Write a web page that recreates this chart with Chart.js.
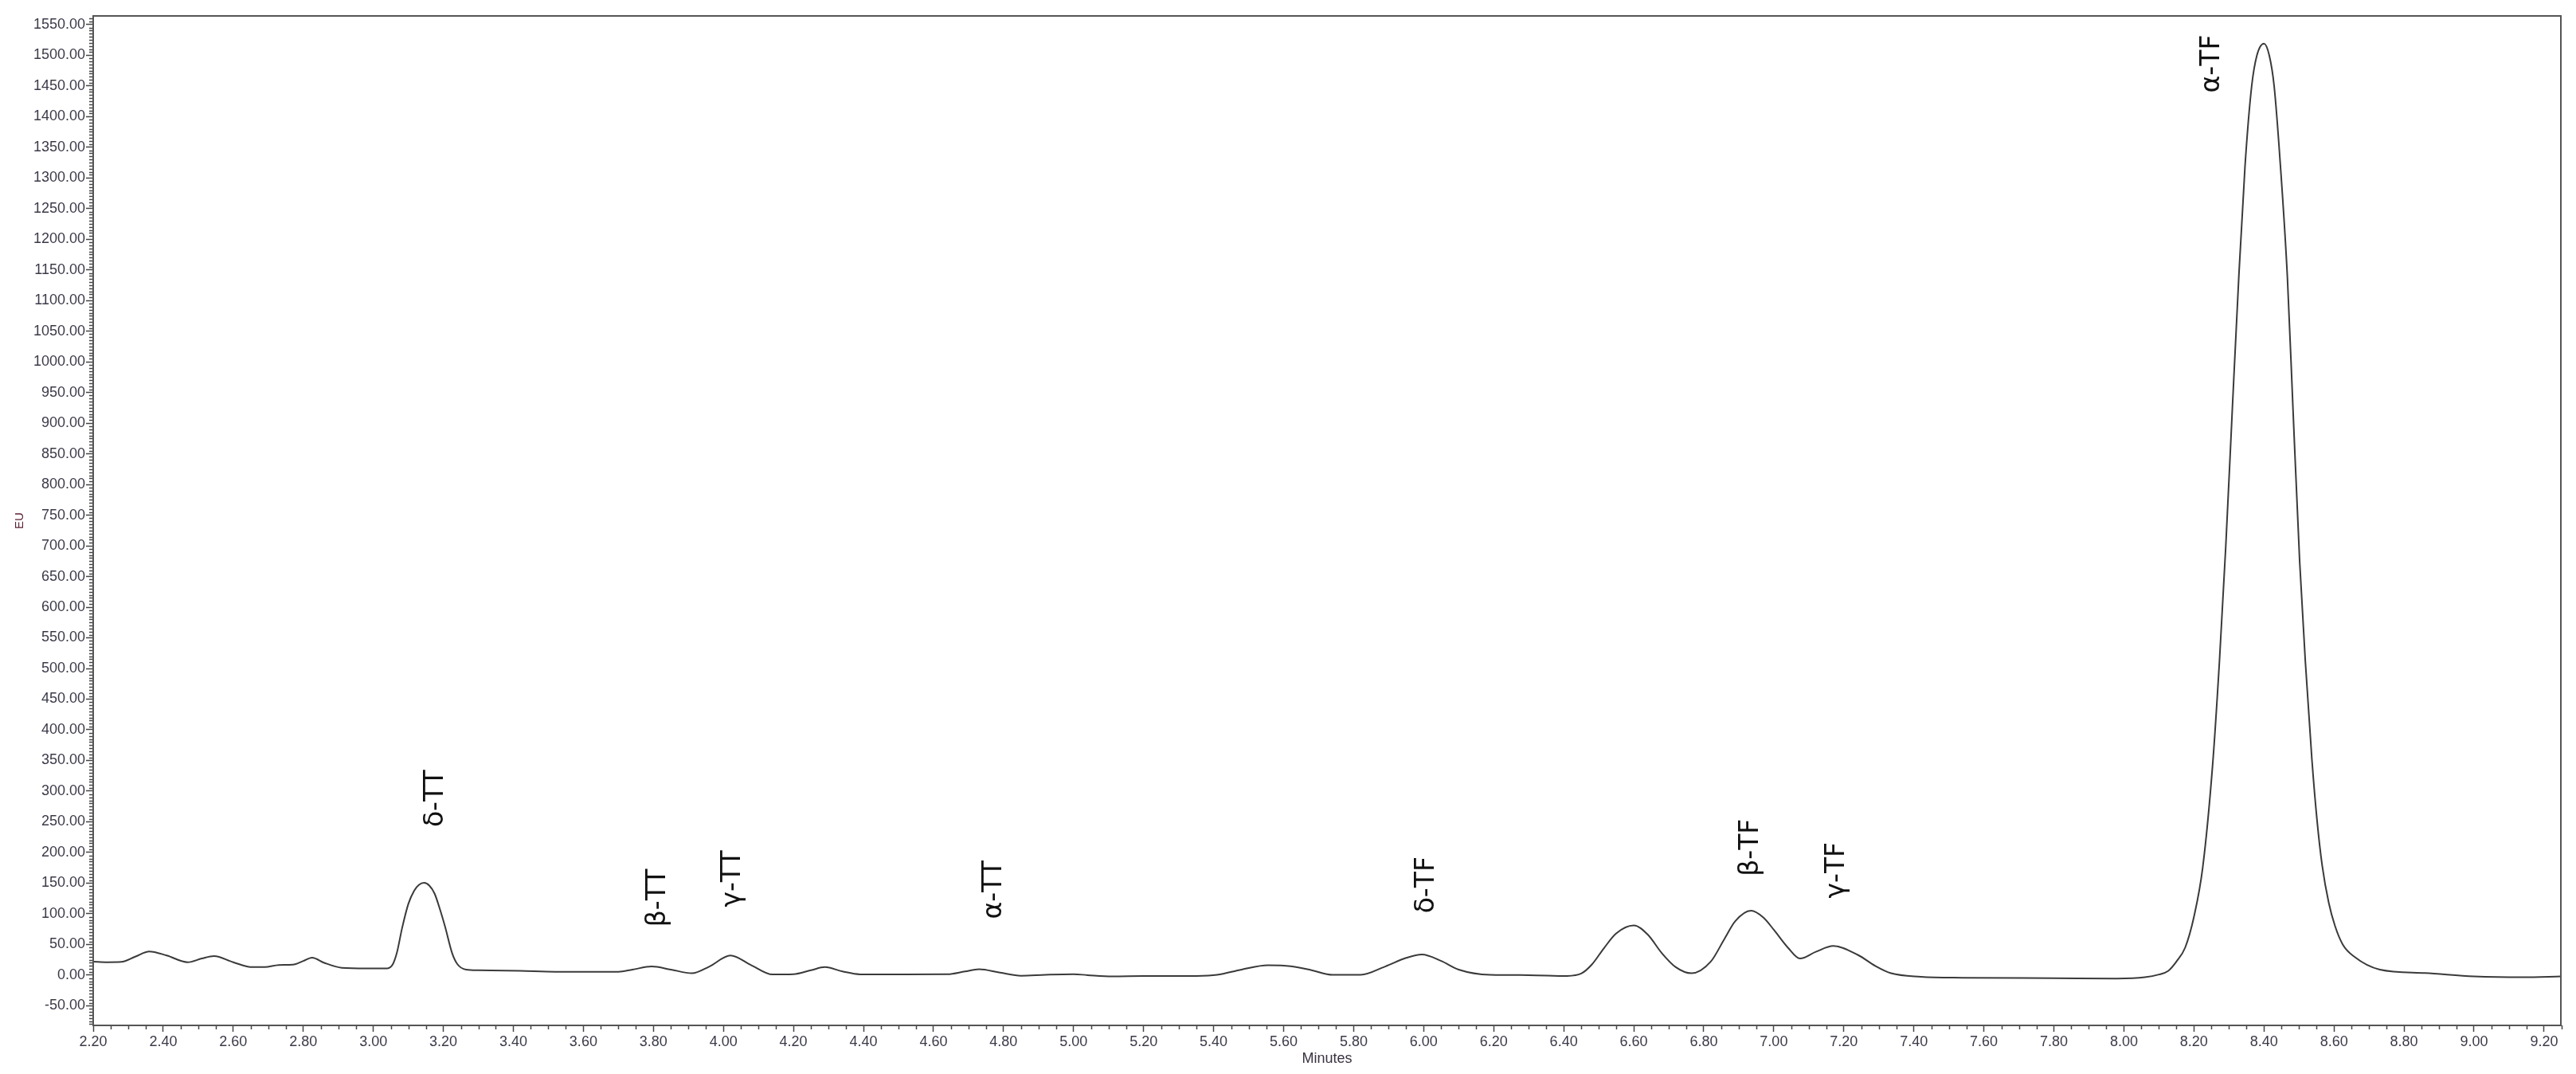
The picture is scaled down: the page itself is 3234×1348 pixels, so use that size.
<!DOCTYPE html>
<html lang="en">
<head>
<meta charset="UTF-8">
<title>Chromatogram - tocotrienols / tocopherols</title>
<script src="https://cdn.jsdelivr.net/npm/chart.js"></script>
<style>
  html, body { margin: 0; padding: 0; background: #fff; }
  canvas { display: block; }
</style>
</head>
<body>
<canvas id="chrom" width="3234" height="1348"></canvas>
<script>
// retention time (min) and detector response (EU)
const minutes = [
  2.20, 2.24, 2.28, 2.32, 2.36, 2.41, 2.47, 2.51, 2.545, 2.60,
  2.655, 2.69, 2.73, 2.77, 2.80, 2.825, 2.86, 2.91, 2.98, 3.04,
  3.055, 3.068, 3.082, 3.10, 3.117, 3.13, 3.145, 3.16, 3.175, 3.19,
  3.205, 3.225, 3.24, 3.265, 3.30, 3.42, 3.52, 3.70, 3.74, 3.795,
  3.85, 3.91, 3.96, 4.02, 4.08, 4.14, 4.20, 4.25, 4.29, 4.34,
  4.39, 4.52, 4.64, 4.69, 4.73, 4.79, 4.85, 4.92, 5.00, 5.04,
  5.11, 5.20, 5.35, 5.41, 5.48, 5.555, 5.62, 5.68, 5.74, 5.82,
  5.89, 5.95, 5.995, 6.05, 6.10, 6.19, 6.30, 6.41, 6.45, 6.48,
  6.515, 6.55, 6.60, 6.64, 6.68, 6.72, 6.765, 6.82, 6.86, 6.89,
  6.935, 6.97, 7.00, 7.04, 7.075, 7.12, 7.17, 7.24, 7.29, 7.335,
  7.42, 7.54, 7.80, 7.98, 8.06, 8.10, 8.127, 8.15, 8.175, 8.20,
  8.225, 8.253, 8.273, 8.291, 8.309, 8.328, 8.346, 8.365, 8.38, 8.40,
  8.415, 8.429, 8.447, 8.467, 8.483, 8.502, 8.518, 8.537, 8.552, 8.566,
  8.585, 8.603, 8.625, 8.658, 8.731, 8.86, 9.00, 9.14, 9.25
];
const response = [
  22, 21, 21.5, 30, 38.5, 32, 21, 27, 31, 21,
  13, 13, 16.5, 17, 23, 28.5, 20, 12, 11, 11,
  17, 38, 76, 116, 138, 147, 150.5, 146, 133, 108,
  79, 36, 18, 9, 8, 7, 5.5, 5.5, 9, 14,
  9, 3, 14, 32, 16, 1, 1.5, 8, 13, 6,
  1.3, 1.3, 1.5, 6, 9.5, 4, -1, 0.5, 1.5, 0,
  -2, -1.5, -1.3, 0.4, 9, 16, 14.5, 8, 0.5, 0.5,
  14, 28, 33.5, 23, 9, 0.5, 0, -1.3, 2.5, 17,
  44, 68, 81, 66, 36, 13, 3, 22, 60, 88,
  105, 94, 74, 45, 27, 38, 47.5, 33, 15, 3,
  -2.6, -4.3, -5, -5.6, -3.5, 1, 7, 22, 45, 95,
  175, 340, 513, 700, 915, 1137, 1320, 1450, 1500, 1519,
  1500, 1450, 1320, 1137, 922, 674, 513, 351, 250, 180,
  118, 80, 50, 30, 9, 3.4, -2, -3.5, -2
];

// peak annotations: name and where its (rotated) label sits, in data units
const peakNames = ['δ-TT', 'β-TT', 'γ-TT', 'α-TT', 'δ-TF', 'β-TF', 'γ-TF', 'α-TF'];
const peakTimes = [3.18, 3.814, 4.027, 4.773, 6.009, 6.936, 7.18, 8.252];
const peakLevels = [288, 126, 157, 139, 147, 208, 171, 1486];

const points = minutes.map((m, i) => ({ x: m, y: response[i] }));

const axisFont = { family: "'Liberation Sans', Arial, sans-serif", size: 18 };
const tickColor = '#3a3a48';
const frameColor = '#555555';

// minor ticks, outer frame and peak names
const extras = {
  id: 'extras',
  afterDraw(chart) {
    const ctx = chart.ctx;
    const a = chart.chartArea;
    const xs = chart.scales.x;
    const ys = chart.scales.y;
    ctx.save();
    ctx.strokeStyle = '#444';
    ctx.lineWidth = 1.5;
    ctx.beginPath();
    for (let v = -80; v <= 1560; v += 5) {
      if (v % 50 === 0) continue;
      const py = Math.round(ys.getPixelForValue(v)) + 0.5;
      ctx.moveTo(a.left - 5, py);
      ctx.lineTo(a.left, py);
    }
    for (let k = 44; k * 0.05 <= 9.25 + 1e-9; k++) {
      if (k % 4 === 0) continue;
      const px = Math.round(xs.getPixelForValue(k * 0.05)) + 0.5;
      ctx.moveTo(px, a.bottom);
      ctx.lineTo(px, a.bottom + 5);
    }
    ctx.stroke();

    ctx.strokeStyle = frameColor;
    ctx.lineWidth = 2;
    ctx.strokeRect(a.left, a.top, a.right - a.left, a.bottom - a.top);

    ctx.fillStyle = '#111';
    ctx.font = "33px 'DejaVu Sans', sans-serif";
    ctx.textAlign = 'center';
    ctx.textBaseline = 'middle';
    peakNames.forEach((name, i) => {
      ctx.save();
      ctx.translate(xs.getPixelForValue(peakTimes[i]), ys.getPixelForValue(peakLevels[i]));
      ctx.rotate(-Math.PI / 2);
      ctx.fillText(name, 0, 0);
      ctx.restore();
    });
    ctx.restore();
  }
};

new Chart(document.getElementById('chrom').getContext('2d'), {
  type: 'line',
  data: {
    datasets: [{
      data: points,
      borderColor: '#3a3a3a',
      borderWidth: 2,
      pointRadius: 0,
      fill: false,
      cubicInterpolationMode: 'monotone'
    }]
  },
  options: {
    responsive: false,
    animation: false,
    devicePixelRatio: 1,
    layout: { padding: { top: 20, right: 19, left: 0, bottom: 0 } },
    plugins: { legend: { display: false }, tooltip: { enabled: false } },
    scales: {
      x: {
        type: 'linear',
        min: 2.2,
        max: 9.248,
        afterFit(scale) { scale.height = 61; },
        border: { display: true, color: frameColor, width: 2 },
        grid: { display: true, drawOnChartArea: false, drawTicks: true, tickLength: 8, tickColor: '#444', tickWidth: 1.5 },
        ticks: {
          stepSize: 0.2,
          autoSkip: false,
          maxRotation: 0,
          includeBounds: false,
          padding: 2,
          color: tickColor,
          font: axisFont,
          callback: v => Number(v).toFixed(2)
        },
        title: {
          display: true,
          text: 'Minutes',
          color: '#3a3340',
          font: axisFont,
          padding: { top: 0, bottom: 8 }
        }
      },
      y: {
        type: 'linear',
        min: -82,
        max: 1564,
        afterFit(scale) { scale.width = 117; },
        border: { display: true, color: frameColor, width: 2 },
        grid: { display: true, drawOnChartArea: false, drawTicks: true, tickLength: 9, tickColor: '#444', tickWidth: 1.5 },
        ticks: {
          stepSize: 50,
          autoSkip: false,
          includeBounds: false,
          padding: 1,
          color: tickColor,
          font: axisFont,
          callback: v => Number(v).toFixed(2)
        },
        title: {
          display: true,
          text: 'EU',
          color: '#5a2035',
          font: { family: "'Liberation Sans', Arial, sans-serif", size: 15 },
          padding: { top: 16, bottom: 0 }
        }
      }
    }
  },
  plugins: [extras]
});
</script>
</body>
</html>
